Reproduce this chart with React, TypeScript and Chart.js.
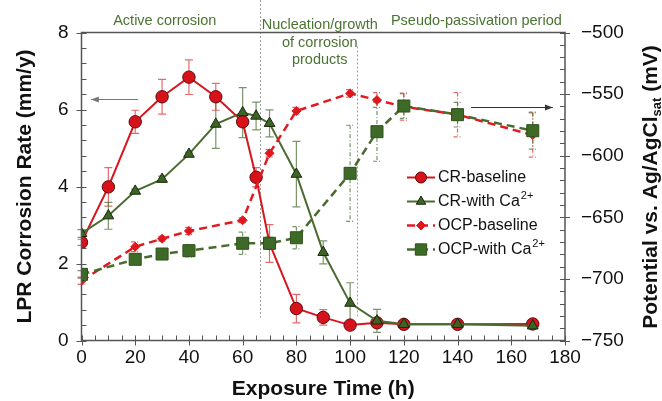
import React, { useEffect, useRef } from 'react';
import { Chart, registerables } from 'chart.js';
Chart.register(...registerables);

// ---- data ----
const crBaseX = [0, 10, 20, 30, 40, 50, 60, 65, 70, 80, 90, 100, 110, 120, 140, 168];
const crBaseY = [2.55, 3.99, 5.68, 6.33, 6.84, 6.33, 5.68, 4.24, 2.52, 0.83, 0.6, 0.4, 0.46, 0.42, 0.42, 0.43];
const crBaseErr = [0.08, 0.5, 0.3, 0.45, 0.45, 0.35, 0.12, 0.25, 0.49, 0.37, 0.2, 0.05, 0.05, 0.05, 0.05, 0.05];

const crCaX = [0, 10, 20, 30, 40, 50, 60, 65, 70, 80, 90, 100, 110, 120, 140, 168];
const crCaY = [2.78, 3.24, 3.88, 4.19, 4.84, 5.62, 5.92, 5.83, 5.64, 4.32, 2.29, 0.97, 0.51, 0.42, 0.42, 0.38];
const crCaErr = [0.1, 0.35, 0.05, 0.08, 0.05, 0.63, 0.65, 0.36, 0.35, 0.85, 0.3, 0.53, 0.3, 0.1, 0.08, 0.05];

const ocpBaseX = [0, 20, 30, 40, 60, 70, 80, 100, 110, 120, 140, 168];
const ocpBaseY = [-701.5, -673.9, -667.4, -661.1, -652.4, -598, -563.7, -549.4, -554.8, -560.2, -566.7, -583.2];
const ocpBaseErr = [3, 4, 2, 3, 2, 3, 3, 3, 6, 11, 18, 18];

const ocpCaX = [0, 20, 30, 40, 60, 70, 80, 100, 110, 120, 140, 168];
const ocpCaY = [-696.3, -684.1, -679.8, -677.1, -671.1, -671.1, -666.6, -614.3, -580.5, -559.7, -566.7, -579.7];
const ocpCaErr = [3, 2, 2, 5, 9, 5, 9, 39, 24, 10, 10, 15];

const seriesNames = ['CR-baseline', 'CR-with Ca', 'OCP-baseline', 'OCP-with Ca'];
const seriesSup = ['', '2+', '', '2+'];

const phaseLinesX = [66.3, 102.6];
const phaseLineBottom = 0.6;
const phaseLabels = ['Active corrosion', 'Nucleation/growth', 'of corrosion', 'products', 'Pseudo-passivation period'];
const phaseLabelX = [31, 88.7, 88.7, 88.7, 147];

const xTitle = 'Exposure Time (h)';
const yTitle = 'LPR Corrosion Rate (mm/y)';
const y2TitleParts = ['Potential vs. Ag/AgCl', 'sat', ' (mV)'];

const FONT = '"Liberation Sans", Arial, Helvetica, sans-serif';
const RED = '#d8141c';
const GREEN = '#4a6b30';
const TEXTGREEN = '#4b7332';
const AXIS = '#555555';

function mk(xs: number[], ys: number[]) {
  return xs.map((x, i) => ({ x, y: ys[i] }));
}

function drawMarker(ctx: CanvasRenderingContext2D, style: string, x: number, y: number, r: number, fill: string, stroke: string) {
  ctx.save();
  ctx.setLineDash([]);
  ctx.fillStyle = fill;
  ctx.strokeStyle = stroke;
  ctx.lineWidth = 1;
  ctx.beginPath();
  if (style === 'circle') {
    ctx.arc(x, y, r, 0, Math.PI * 2);
  } else if (style === 'triangle') {
    ctx.moveTo(x, y - r);
    ctx.lineTo(x + r * 0.866, y + r * 0.5);
    ctx.lineTo(x - r * 0.866, y + r * 0.5);
    ctx.closePath();
  } else if (style === 'rectRot') {
    ctx.moveTo(x, y - r);
    ctx.lineTo(x + r, y);
    ctx.lineTo(x, y + r);
    ctx.lineTo(x - r, y);
    ctx.closePath();
  } else {
    const s = r * Math.SQRT1_2;
    ctx.rect(x - s, y - s, 2 * s, 2 * s);
  }
  ctx.fill();
  ctx.stroke();
  ctx.restore();
}

const overlay = {
  id: 'overlay',
  beforeDatasetsDraw(chart: any) {
    const { ctx, chartArea: ca, scales } = chart;
    const xs = scales.x, ys = scales.y;
    ctx.save();
    // phase separators
    ctx.strokeStyle = '#a0a0a0';
    ctx.lineWidth = 1;
    ctx.setLineDash([2, 2]);
    const yb = ys.getPixelForValue(phaseLineBottom);
    const tops = [0, ca.top + 14];
    phaseLinesX.forEach((v, i) => {
      const px = Math.round(xs.getPixelForValue(v)) + 0.5;
      ctx.beginPath();
      ctx.moveTo(px, tops[i]);
      ctx.lineTo(px, yb);
      ctx.stroke();
    });
    // error bars
    chart.data.datasets.forEach((ds: any, i: number) => {
      const meta = chart.getDatasetMeta(i);
      const sc = scales[meta.yAxisID];
      ctx.strokeStyle = ds.errColor;
      ctx.lineWidth = 1.2;
      ctx.setLineDash(ds.errDash);
      ds.data.forEach((p: any, j: number) => {
        const e = ds.errors[j];
        const px = xs.getPixelForValue(p.x);
        const y1 = sc.getPixelForValue(p.y + e);
        const y2 = sc.getPixelForValue(p.y - e);
        ctx.beginPath();
        ctx.moveTo(px, y1);
        ctx.lineTo(px, y2);
        ctx.moveTo(px - 4, y1);
        ctx.lineTo(px + 4, y1);
        ctx.moveTo(px - 4, y2);
        ctx.lineTo(px + 4, y2);
        ctx.stroke();
      });
    });
    ctx.restore();
  },
  afterDraw(chart: any) {
    const { ctx, chartArea: ca, scales } = chart;
    const xs = scales.x, ys = scales.y, y2s = scales.y2;
    ctx.save();
    ctx.setLineDash([]);
    // frame
    ctx.strokeStyle = AXIS;
    ctx.lineWidth = 1.5;
    ctx.strokeRect(ca.left, ca.top, ca.right - ca.left, ca.bottom - ca.top);
    // ticks
    ctx.lineWidth = 1;
    ctx.beginPath();
    for (let v = 0; v <= 180; v += 5) {
      const px = Math.round(xs.getPixelForValue(v)) + 0.5;
      const major = v % 20 === 0;
      ctx.moveTo(px, ca.bottom - 5);
      ctx.lineTo(px, ca.bottom + (major ? 5 : 0));
    }
    for (let k = 0; k <= 20; k++) {
      const v = k * 0.4;
      const py = Math.round(ys.getPixelForValue(v)) + 0.5;
      const major = k % 5 === 0;
      ctx.moveTo(ca.left - (major ? 5 : 0), py);
      ctx.lineTo(ca.left + 5, py);
    }
    for (let v = -750; v <= -500; v += 10) {
      const py = Math.round(y2s.getPixelForValue(v)) + 0.5;
      const major = v % 50 === 0;
      ctx.moveTo(ca.right - 5, py);
      ctx.lineTo(ca.right + (major ? 5 : 0), py);
    }
    ctx.stroke();

    // axis titles
    ctx.fillStyle = '#111';
    ctx.font = `bold 21px ${FONT}`;
    ctx.textAlign = 'center';
    ctx.textBaseline = 'middle';
    ctx.fillText(xTitle, (ca.left + ca.right) / 2, 389);
    ctx.save();
    ctx.translate(25, (ca.top + ca.bottom) / 2);
    ctx.rotate(-Math.PI / 2);
    ctx.fillText(yTitle, 0, 0);
    ctx.restore();
    // right title with subscript
    ctx.save();
    ctx.translate(650, 187);
    ctx.rotate(-Math.PI / 2);
    const big = `bold 21px ${FONT}`;
    const small = `bold 13px ${FONT}`;
    ctx.font = big;
    const w0 = ctx.measureText(y2TitleParts[0]).width;
    const w2 = ctx.measureText(y2TitleParts[2]).width;
    ctx.font = small;
    const w1 = ctx.measureText(y2TitleParts[1]).width;
    let cx = -(w0 + w1 + w2) / 2;
    ctx.textAlign = 'left';
    ctx.textBaseline = 'alphabetic';
    ctx.font = big;
    ctx.fillText(y2TitleParts[0], cx, 7);
    cx += w0;
    ctx.font = small;
    ctx.fillText(y2TitleParts[1], cx, 11);
    cx += w1;
    ctx.font = big;
    ctx.fillText(y2TitleParts[2], cx, 7);
    ctx.restore();

    // phase labels
    ctx.fillStyle = TEXTGREEN;
    ctx.font = `14.5px ${FONT}`;
    ctx.textAlign = 'center';
    ctx.textBaseline = 'middle';
    const labelY = [ca.top - 12, ca.top - 8, ca.top + 10, ca.top + 27.5, ca.top - 12];
    phaseLabels.forEach((t, i) => {
      ctx.fillText(t, xs.getPixelForValue(phaseLabelX[i]), labelY[i]);
    });

    // arrows
    const drawArrow = (x1: number, x2: number, y: number, color: string) => {
      ctx.strokeStyle = color;
      ctx.fillStyle = color;
      ctx.lineWidth = 1;
      ctx.beginPath();
      ctx.moveTo(x1, y);
      ctx.lineTo(x2, y);
      ctx.stroke();
      const d = x2 > x1 ? 1 : -1;
      ctx.beginPath();
      ctx.moveTo(x2, y);
      ctx.lineTo(x2 - d * 8, y - 3);
      ctx.lineTo(x2 - d * 8, y + 3);
      ctx.closePath();
      ctx.fill();
    };
    const ly = Math.round(ys.getPixelForValue(6.27)) + 0.5;
    drawArrow(xs.getPixelForValue(21), xs.getPixelForValue(3.5), ly, '#777');
    const ry = Math.round(y2s.getPixelForValue(-560.2)) + 0.5;
    drawArrow(xs.getPixelForValue(145), xs.getPixelForValue(175.5), ry, '#333');

    // legend
    const lx0 = 407, lx1 = 435, ltx = 438;
    chart.data.datasets.forEach((ds: any, i: number) => {
      const y = 177.5 + i * 24;
      ctx.strokeStyle = ds.borderColor;
      ctx.lineWidth = ds.borderWidth;
      ctx.setLineDash(ds.borderDash || []);
      ctx.beginPath();
      ctx.moveTo(lx0, y);
      ctx.lineTo(lx1, y);
      ctx.stroke();
      drawMarker(ctx, ds.pointStyle, (lx0 + lx1) / 2, y, ds.legendR, ds.pointBackgroundColor, ds.pointBorderColor);
      ctx.fillStyle = '#111';
      ctx.textAlign = 'left';
      ctx.textBaseline = 'middle';
      ctx.font = `16px ${FONT}`;
      ctx.fillText(seriesNames[i], ltx, y);
      if (seriesSup[i]) {
        const w = ctx.measureText(seriesNames[i]).width;
        ctx.font = `11px ${FONT}`;
        ctx.fillText(seriesSup[i], ltx + w + 1, y - 6);
      }
    });
    ctx.restore();
  },
};

export default function App() {
  const ref = useRef<HTMLCanvasElement | null>(null);
  useEffect(() => {
    if (!ref.current) return;
    const tickFont = { family: FONT, size: 19 };
    const chart = new Chart(ref.current, {
      type: 'line',
      data: {
        datasets: [
          {
            label: 'CR-baseline', data: mk(crBaseX, crBaseY), yAxisID: 'y', order: 3,
            borderColor: RED, borderWidth: 2, pointStyle: 'circle', pointRadius: 6.2,
            pointBackgroundColor: '#d8121b', pointBorderColor: '#5e0a0a', pointBorderWidth: 1,
            errors: crBaseErr, errColor: 'rgba(220,70,70,0.8)', errDash: [], legendR: 5.5,
          } as any,
          {
            label: 'CR-with Ca2+', data: mk(crCaX, crCaY), yAxisID: 'y', order: 2,
            borderColor: GREEN, borderWidth: 2, pointStyle: 'triangle', pointRadius: 6.2,
            pointBackgroundColor: '#3d6425', pointBorderColor: '#17290c', pointBorderWidth: 1,
            errors: crCaErr, errColor: 'rgba(90,120,70,0.8)', errDash: [], legendR: 5.5,
          } as any,
          {
            label: 'OCP-baseline', data: mk(ocpBaseX, ocpBaseY), yAxisID: 'y2', order: 1,
            borderColor: '#e01a1f', borderWidth: 2.5, borderDash: [8, 5], pointStyle: 'rectRot', pointRadius: 4.5,
            pointBackgroundColor: '#e0161d', pointBorderColor: '#e0161d', pointBorderWidth: 1,
            errors: ocpBaseErr, errColor: 'rgba(220,60,60,0.8)', errDash: [4, 2, 1, 2], legendR: 4.5,
          } as any,
          {
            label: 'OCP-with Ca2+', data: mk(ocpCaX, ocpCaY), yAxisID: 'y2', order: 0,
            borderColor: GREEN, borderWidth: 2.5, borderDash: [8, 5], pointStyle: 'rect', pointRadius: 8.5,
            pointBackgroundColor: '#3e6a28', pointBorderColor: '#2e5019', pointBorderWidth: 1,
            errors: ocpCaErr, errColor: 'rgba(90,120,70,0.8)', errDash: [4, 2, 1, 2], legendR: 8,
          } as any,
        ],
      },
      options: {
        responsive: false,
        animation: false,
        devicePixelRatio: 1,
        layout: { padding: { top: 32.5, left: 0, right: 0, bottom: 0 } },
        plugins: { legend: { display: false }, tooltip: { enabled: false } },
        elements: { line: { tension: 0 } },
        scales: {
          x: {
            type: 'linear', min: 0, max: 180,
            ticks: { stepSize: 20, font: tickFont, color: '#111', padding: 6, maxRotation: 0 },
            grid: { display: false, drawTicks: false },
            border: { display: false },
            afterFit: (s: any) => { s.height = 60.5; },
          },
          y: {
            type: 'linear', position: 'left', min: 0, max: 8,
            ticks: { stepSize: 2, font: tickFont, color: '#111', padding: 13 },
            grid: { display: false, drawTicks: false },
            border: { display: false },
            afterFit: (s: any) => { s.width = 81.5; },
          },
          y2: {
            type: 'linear', position: 'right', min: -750, max: -500,
            ticks: {
              stepSize: 50, font: tickFont, color: '#111', padding: 16,
              callback: (v: any) => (v < 0 ? '\u2212' + Math.abs(v) : String(v)),
            },
            grid: { display: false, drawTicks: false },
            border: { display: false },
            afterFit: (s: any) => { s.width = 97; },
          },
        },
      } as any,
      plugins: [overlay],
    });
    return () => chart.destroy();
  }, []);
  return (
    <div style={{ position: 'fixed', left: 0, top: 0, width: 662, height: 401, background: '#fff' }}>
      <canvas ref={ref} width={662} height={401} style={{ display: 'block' }} />
    </div>
  );
}
